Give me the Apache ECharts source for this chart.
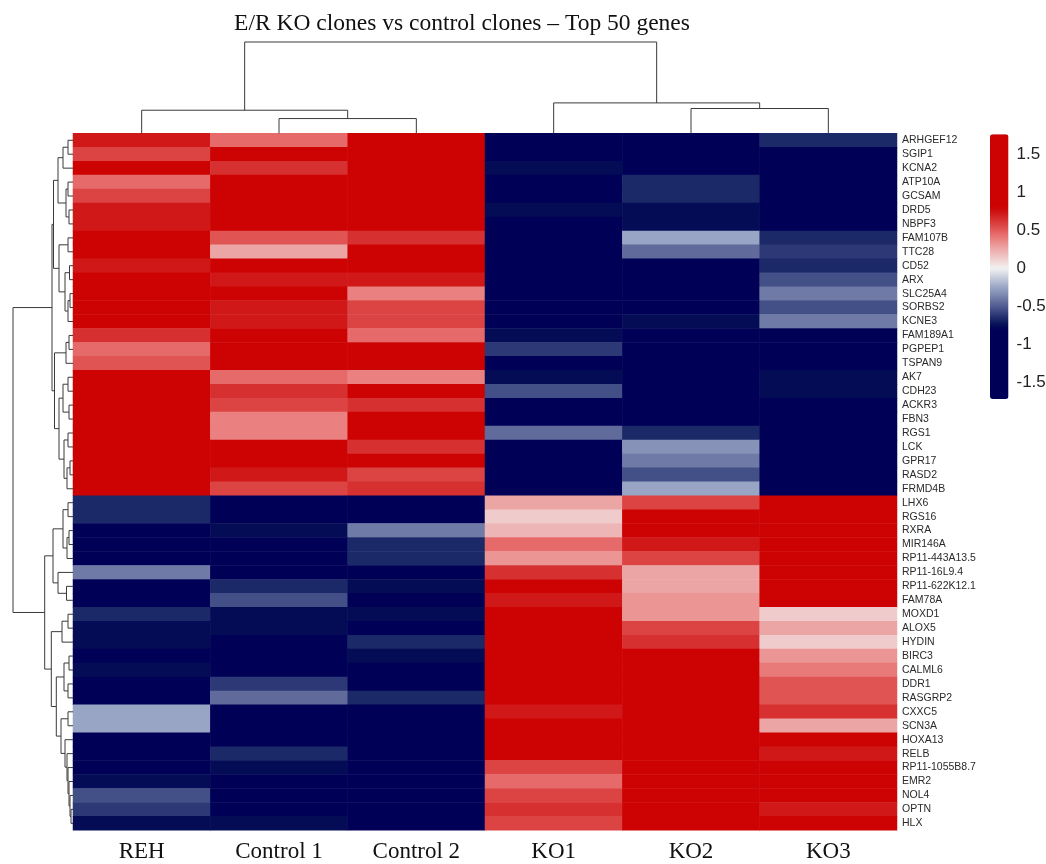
<!DOCTYPE html>
<html><head><meta charset="utf-8">
<script src="https://cdn.jsdelivr.net/npm/echarts@6/dist/echarts.min.js"></script>
<style>html,body{margin:0;padding:0;background:#fff}#c{width:1046px;height:864px}</style>
</head><body><div id="c"></div>
<script>
const chartTitle = 'E/R KO clones vs control clones \u2013 Top 50 genes';
const samples = ['REH', 'Control 1', 'Control 2', 'KO1', 'KO2', 'KO3'];
const genes = ['ARHGEF12','SGIP1','KCNA2','ATP10A','GCSAM','DRD5','NBPF3','FAM107B','TTC28','CD52',
  'ARX','SLC25A4','SORBS2','KCNE3','FAM189A1','PGPEP1','TSPAN9','AK7','CDH23','ACKR3',
  'FBN3','RGS1','LCK','GPR17','RASD2','FRMD4B','LHX6','RGS16','RXRA','MIR146A',
  'RP11-443A13.5','RP11-16L9.4','RP11-622K12.1','FAM78A','MOXD1','ALOX5','HYDIN','BIRC3','CALML6','DDR1',
  'RASGRP2','CXXC5','SCN3A','HOXA13','RELB','RP11-1055B8.7','EMR2','NOL4','OPTN','HLX'];
// row z-scores, columns in the order of `samples`
const values = [
  [0.72, 0.45, 1.3, -1.1, -1.1, -0.66],
  [0.57, 1.3, 1.3, -1.1, -1.1, -1.1],
  [1.3, 0.64, 1.3, -0.75, -1.1, -1.1],
  [0.45, 1.3, 1.3, -1.1, -0.66, -1.1],
  [0.57, 1.3, 1.3, -1.1, -0.66, -1.1],
  [0.72, 1.3, 1.3, -0.75, -0.75, -1.1],
  [0.72, 1.3, 1.3, -1.1, -0.75, -1.1],
  [1.3, 0.52, 0.64, -1.1, -0.25, -0.66],
  [1.3, 0.27, 1.3, -1.1, -0.45, -0.61],
  [0.72, 1.3, 1.3, -1.1, -1.1, -0.66],
  [1.3, 0.72, 0.72, -1.1, -1.1, -0.54],
  [1.3, 1.3, 0.38, -1.1, -1.1, -0.40],
  [1.3, 0.72, 0.57, -1.1, -1.1, -0.54],
  [1.3, 0.72, 0.57, -1.1, -0.75, -0.40],
  [0.64, 1.3, 0.45, -0.75, -1.1, -1.1],
  [0.45, 1.3, 1.3, -0.61, -1.1, -1.1],
  [0.52, 1.3, 1.3, -1.1, -1.1, -1.1],
  [1.3, 0.45, 0.38, -0.75, -1.1, -0.75],
  [1.3, 0.64, 1.3, -0.54, -1.1, -0.75],
  [1.3, 0.57, 0.64, -1.1, -1.1, -1.1],
  [1.3, 0.38, 1.3, -1.1, -1.1, -1.1],
  [1.3, 0.38, 1.3, -0.45, -0.66, -1.1],
  [1.3, 1.3, 0.64, -1.1, -0.32, -1.1],
  [1.3, 1.3, 1.3, -1.1, -0.40, -1.1],
  [1.3, 0.72, 0.57, -1.1, -0.54, -1.1],
  [1.3, 0.57, 0.64, -1.1, -0.25, -1.1],
  [-0.66, -1.1, -1.1, 0.27, 0.57, 1.3],
  [-0.66, -1.1, -1.1, 0.13, 1.3, 1.3],
  [-1.1, -0.75, -0.40, 0.21, 1.3, 1.3],
  [-1.1, -1.1, -0.66, 0.45, 0.72, 1.3],
  [-1.1, -1.1, -0.66, 0.32, 0.57, 1.3],
  [-0.40, -1.1, -1.1, 0.64, 0.27, 1.3],
  [-1.1, -0.66, -0.75, 1.3, 0.27, 1.3],
  [-1.1, -0.54, -1.1, 0.72, 0.32, 1.3],
  [-0.66, -0.75, -0.75, 1.3, 0.32, 0.13],
  [-0.75, -0.75, -1.1, 1.3, 0.57, 0.27],
  [-0.75, -1.1, -0.66, 1.3, 0.64, 0.13],
  [-1.1, -1.1, -0.75, 1.3, 1.3, 0.32],
  [-0.75, -1.1, -1.1, 1.3, 1.3, 0.40],
  [-1.1, -0.61, -1.1, 1.3, 1.3, 0.52],
  [-1.1, -0.45, -0.66, 1.3, 1.3, 0.52],
  [-0.25, -1.1, -1.1, 0.72, 1.3, 0.64],
  [-0.25, -1.1, -1.1, 1.3, 1.3, 0.27],
  [-1.1, -1.1, -1.1, 1.3, 1.3, 1.3],
  [-1.1, -0.66, -1.1, 1.3, 1.3, 0.72],
  [-1.1, -0.75, -1.1, 0.57, 1.3, 1.3],
  [-0.75, -1.1, -1.1, 0.45, 1.3, 1.3],
  [-0.54, -1.1, -1.1, 0.57, 1.3, 1.3],
  [-0.61, -1.1, -1.1, 0.64, 1.3, 0.72],
  [-0.75, -0.75, -1.1, 0.57, 1.3, 1.3]
];
// dendrograms: node = [left, right, height]; leaf = index
const colTree = [[0, [1, 2, 14.7], 23], [3, [4, 5, 24.7], 30.3], 91];
const rowTree = [
  [
    [
      [[[0, 1, 5], 2, 10], [[3, 4, 5], [5, 6, 4], 7], 15],
      [[7, 8, 5], [[9, 10, 3.5], [[11, 12, 3], 13, 5], 8], 14],
      19.5
    ],
    [
      [[14, 15, 4], 16, 7],
      [[[17, 18, 5], [19, 20, 4], 10], [[21, 22, 5], [[23, 24, 3], 25, 6], 9], 14],
      18.5
    ],
    21
  ],
  [
    [
      [[26, 27, 5], [[28, 29, 4], 30, 6], 10],
      [31, [32, 33, 6.5], 15],
      20
    ],
    [
      [[34, 35, 5], 36, 11],
      [[[37, 38, 4], [39, 40, 5], 9],
       [[41, 42, 5], [43, [44, [45, [46, [47, [48, 49, 2], 3], 4], 5], 6], 8], 12], 16.7],
      21.7
    ],
    28.3
  ],
  60
];
const colorTicks = [-1.5, -1, -0.5, 0, 0.5, 1, 1.5];
const scaleMin = -1.713, scaleMax = 1.756;

// ---- helpers ----
function layoutTree(node, segs) {
  if (typeof node === 'number') return { pos: node + 0.5, h: 0 };
  const l = layoutTree(node[0], segs), r = layoutTree(node[1], segs);
  segs.push([l.pos, l.h, r.pos, r.h, node[2]]);
  return { pos: (l.pos + r.pos) / 2, h: node[2] };
}
const colSegs = []; layoutTree(colTree, colSegs);
const rowSegs = []; layoutTree(rowTree, rowSegs);

// colour ramp (style): stops by fraction of saturation, white in the middle
const sat = 0.8;
const lowStops = [[0, [242, 242, 242]], [0.31, [154, 166, 198]], [0.5, [112, 122, 166]], [0.67, [68, 80, 136]],
  [0.83, [26, 40, 104]], [0.93, [4, 14, 86]], [1, [0, 0, 86]]];
const highStops = [[0, [242, 242, 242]], [0.16, [240, 204, 204]], [0.34, [236, 164, 164]], [0.56, [232, 106, 106]],
  [0.71, [220, 69, 69]], [0.8, [215, 48, 48]], [0.89, [208, 26, 26]], [1, [205, 3, 3]]];
function stopColor(stops, t) {
  for (let i = 1; i < stops.length; i++) {
    if (t <= stops[i][0]) {
      const [t0, c0] = stops[i - 1], [t1, c1] = stops[i];
      const f = (t - t0) / (t1 - t0);
      return 'rgb(' + c0.map((v, k) => Math.round(v + (c1[k] - v) * f)).join(',') + ')';
    }
  }
  return 'rgb(' + stops[stops.length - 1][1].join(',') + ')';
}
const ramp = [];
for (let i = 0; i <= 140; i++) {
  const v = scaleMin + (scaleMax - scaleMin) * i / 140;
  const t = Math.max(-1, Math.min(1, v / sat));
  ramp.push(t < 0 ? stopColor(lowStops, -t) : stopColor(highStops, t));
}

const heatData = [];
values.forEach((row, r) => row.forEach((v, c) => heatData.push([c, r, v])));

const G = { left: 73, top: 133.3, width: 824, height: 697 };
const CB = { left: 990, top: 134.3, width: 18.5, height: 264.7 };
const lineStyle = { stroke: '#3a3a3a', lineWidth: 1, fill: null };

const chart = echarts.init(document.getElementById('c'), null, { renderer: 'canvas' });
chart.setOption({
  animation: false,
  backgroundColor: '#fff',
  title: {
    text: chartTitle, left: 457, top: 7, textAlign: 'center',
    textStyle: { fontFamily: 'Liberation Serif', fontSize: 23.5, fontWeight: 'normal', color: '#111' }
  },
  grid: [
    { left: G.left, top: G.top, width: G.width, height: G.height, outerBoundsMode: 'none' },
    { left: G.left, top: 42, width: G.width, height: G.top - 42, outerBoundsMode: 'none' },
    { left: 13, top: G.top, width: 60, height: G.height, outerBoundsMode: 'none' },
    { left: CB.left, top: CB.top, width: CB.width, height: CB.height, outerBoundsMode: 'none' }
  ],
  xAxis: [
    { type: 'category', gridIndex: 0, data: samples, position: 'bottom',
      axisLine: { show: false }, axisTick: { show: false },
      axisLabel: { interval: 0, margin: 10, fontFamily: 'Liberation Serif', fontSize: 23, color: '#111' } },
    { type: 'value', gridIndex: 1, min: 0, max: samples.length, show: false },
    { type: 'value', gridIndex: 2, min: 0, max: 60, inverse: true, show: false },
    { type: 'value', gridIndex: 3, min: 0, max: 1, show: false }
  ],
  yAxis: [
    { type: 'category', gridIndex: 0, data: genes, inverse: true, position: 'right',
      axisLine: { show: false }, axisTick: { show: false },
      axisLabel: { interval: 0, margin: 5, fontFamily: 'Liberation Sans', fontSize: 10.5, color: '#2a2a2a' } },
    { type: 'value', gridIndex: 1, min: 0, max: 91, show: false },
    { type: 'value', gridIndex: 2, min: 0, max: genes.length, inverse: true, show: false },
    { type: 'value', gridIndex: 3, min: scaleMin, max: scaleMax, position: 'right',
      axisLine: { show: false }, axisTick: { show: false }, splitLine: { show: false },
      axisLabel: { customValues: colorTicks, margin: 8, fontFamily: 'Liberation Sans', fontSize: 17, color: '#222',
        formatter: v => String(v) } }
  ],
  visualMap: {
    type: 'continuous', min: scaleMin, max: scaleMax, seriesIndex: 0,
    calculable: false, hoverLink: false, realtime: false,
    left: CB.left, top: CB.top, itemWidth: CB.width, itemHeight: CB.height, padding: 0,
    text: null, inRange: { color: ramp }, orient: 'vertical'
  },
  series: [
    { type: 'heatmap', xAxisIndex: 0, yAxisIndex: 0, data: heatData,
      emphasis: { disabled: true }, itemStyle: { borderWidth: 0 }, progressive: 0 },
    { type: 'custom', xAxisIndex: 1, yAxisIndex: 1, data: colSegs, silent: true,
      encode: { x: [0, 2], y: [1, 3, 4] },
      renderItem: (p, api) => {
        const pL = api.value(0), hL = api.value(1), pR = api.value(2), hR = api.value(3), h = api.value(4);
        return { type: 'polyline', shape: { points: [api.coord([pL, hL]), api.coord([pL, h]), api.coord([pR, h]), api.coord([pR, hR])] }, style: lineStyle };
      } },
    { type: 'custom', xAxisIndex: 2, yAxisIndex: 2, data: rowSegs, silent: true,
      encode: { x: [1, 3, 4], y: [0, 2] },
      renderItem: (p, api) => {
        const pL = api.value(0), hL = api.value(1), pR = api.value(2), hR = api.value(3), h = api.value(4);
        return { type: 'polyline', shape: { points: [api.coord([hL, pL]), api.coord([h, pL]), api.coord([h, pR]), api.coord([hR, pR])] }, style: lineStyle };
      } }
  ]
});
</script></body></html>
